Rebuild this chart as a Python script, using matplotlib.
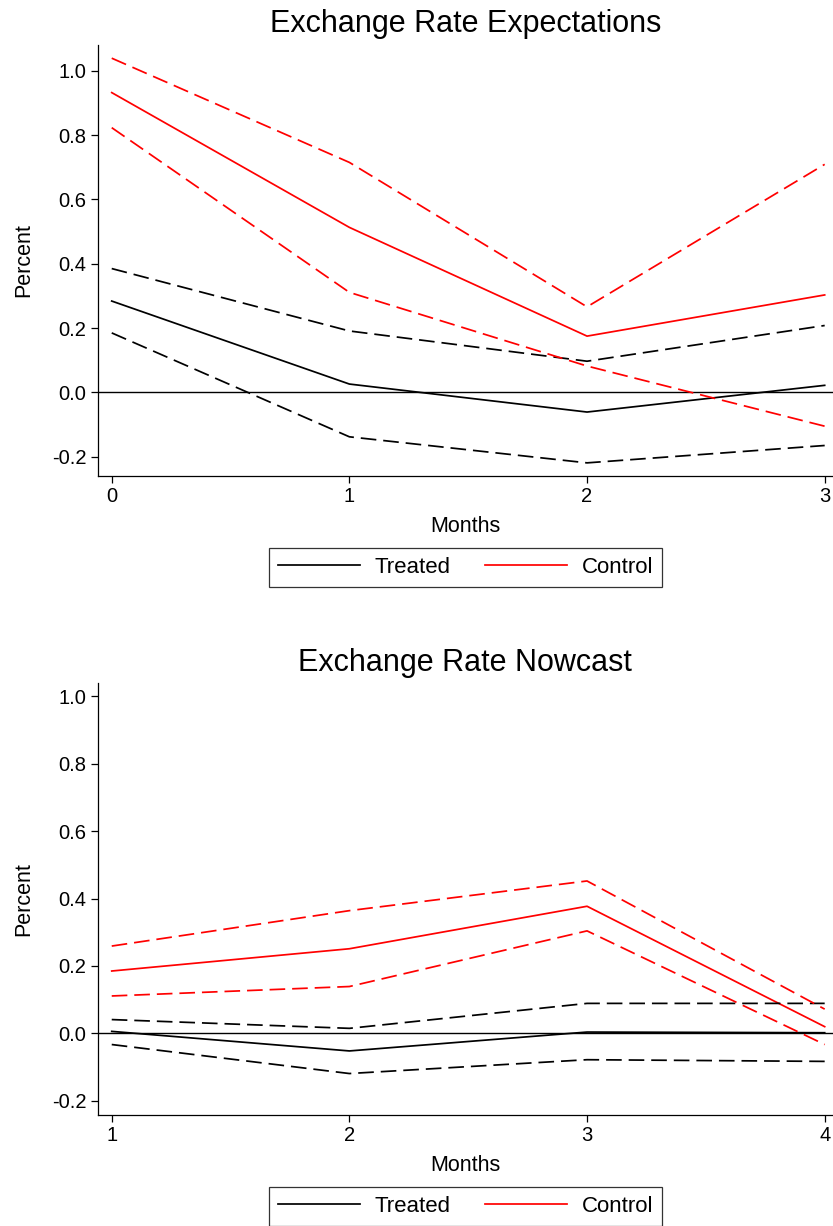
import numpy as np
import matplotlib
matplotlib.use("Agg")
import matplotlib.pyplot as plt

plt.rcParams['font.family'] = ['Liberation Sans', 'DejaVu Sans']

# ---- data ----
months_exp = [0, 1, 2, 3]
exp_treated = [0.284, 0.026, -0.061, 0.022]
exp_treated_hi = [0.385, 0.191, 0.097, 0.208]
exp_treated_lo = [0.185, -0.138, -0.219, -0.165]
exp_control = [0.932, 0.513, 0.175, 0.303]
exp_control_hi = [1.039, 0.715, 0.266, 0.709]
exp_control_lo = [0.823, 0.311, 0.082, -0.105]

months_now = [1, 2, 3, 4]
now_treated = [0.006, -0.052, 0.004, 0.002]
now_treated_hi = [0.041, 0.015, 0.089, 0.089]
now_treated_lo = [-0.033, -0.119, -0.078, -0.083]
now_control = [0.185, 0.251, 0.377, 0.020]
now_control_hi = [0.259, 0.364, 0.452, 0.072]
now_control_lo = [0.111, 0.139, 0.304, -0.033]

yticks = [-0.2, 0.0, 0.2, 0.4, 0.6, 0.8, 1.0]


def panel(ax, x, tr, tr_hi, tr_lo, co, co_hi, co_lo, title, ylim):
    dash = (9, 4)
    lw = 1.25
    ax.axhline(0, color='black', lw=1.0, zorder=1)
    ax.plot(x, tr, color='black', lw=lw, label='Treated')
    ax.plot(x, co, color='red', lw=lw, label='Control')
    for s in (tr_hi, tr_lo):
        ax.plot(x, s, color='black', lw=lw, dashes=dash)
    for s in (co_hi, co_lo):
        ax.plot(x, s, color='red', lw=lw, dashes=dash)

    ax.set_xlim(x[0] - 0.059, x[-1] + 0.035)
    ax.set_ylim(*ylim)
    ax.set_xticks(x)
    ax.set_yticks(yticks)
    ax.set_yticklabels(['%.1f' % v for v in yticks])
    ax.spines['top'].set_visible(False)
    ax.spines['right'].set_visible(False)
    for sp in ('left', 'bottom'):
        ax.spines[sp].set_linewidth(0.9)
    ax.tick_params(labelsize=14.5, length=5, width=0.9, pad=3)
    ax.set_title(title, fontsize=22, pad=9)
    ax.set_xlabel('Months', fontsize=15.5, labelpad=7)
    ax.set_ylabel('Percent', fontsize=15.5, labelpad=13)
    leg = ax.legend(loc='upper center', bbox_to_anchor=(0.5, -0.167), ncol=2,
                    fontsize=16, frameon=True, fancybox=False, handlelength=3.7,
                    columnspacing=1.58, handletextpad=0.63, borderpad=0.4,
                    borderaxespad=0)
    leg.get_frame().set_edgecolor('black')
    leg.get_frame().set_linewidth(0.9)


fig = plt.figure(figsize=(8.33, 12.26), dpi=100)
ax1 = fig.add_axes([0.1173, 0.6117, 0.8827, 0.3516])
ax2 = fig.add_axes([0.1173, 0.0908, 0.8827, 0.3521])

panel(ax1, months_exp, exp_treated, exp_treated_hi, exp_treated_lo,
      exp_control, exp_control_hi, exp_control_lo,
      'Exchange Rate Expectations', (-0.260, 1.080))
panel(ax2, months_now, now_treated, now_treated_hi, now_treated_lo,
      now_control, now_control_hi, now_control_lo,
      'Exchange Rate Nowcast', (-0.241, 1.039))

fig.savefig('out.png', dpi=100)
